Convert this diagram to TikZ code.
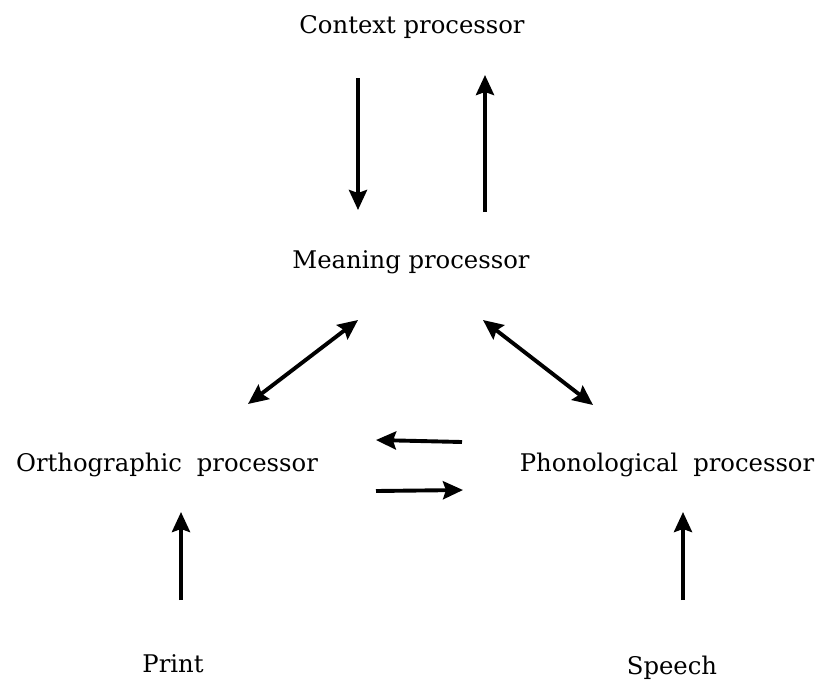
\documentclass[tikz,border=0pt]{standalone}
\usepackage{fontspec}
\setmainfont{DejaVu Serif}
\usetikzlibrary{arrows.meta}
\begin{document}
\begin{tikzpicture}[x=1pt,y=-1pt,
  lbl/.style={inner sep=0pt,font=\fontsize{24.3}{28}\selectfont},
  tip/.tip={Stealth[length=20pt,width=18pt,inset=3pt]},
  arr/.style={line width=3.9pt,-tip},
  darr/.style={line width=3.9pt,tip-tip}]
\useasboundingbox (0,0) rectangle (821,681);
\node[lbl] (ctx) at (412,27) {Context processor};
\node[lbl] (mean) at (411,262) {Meaning processor};
\node[lbl] (orth) at (167,465) {Orthographic\hspace{0.3em} processor};
\node[lbl] (phon) at (667,465) {Phonological\hspace{0.3em} processor};
\node[lbl] (print) at (173,664) {Print};
\node[lbl] (speech) at (672,668) {Speech};
% arrow endpoints
\coordinate (a1s) at (358,78);  \coordinate (a1e) at (358,210);
\coordinate (a2s) at (485,212); \coordinate (a2e) at (485,75);
\coordinate (a3s) at (248,404); \coordinate (a3e) at (358,320);
\coordinate (a4s) at (483,320); \coordinate (a4e) at (593,405);
\coordinate (a5s) at (462,442); \coordinate (a5e) at (376,440);
\coordinate (a6s) at (376,491); \coordinate (a6e) at (463,490);
\coordinate (a7s) at (181,600); \coordinate (a7e) at (181,512);
\coordinate (a8s) at (683,600); \coordinate (a8e) at (683,512);
\draw[arr] (a1s) -- (a1e);
\draw[arr] (a2s) -- (a2e);
\draw[darr] (a3s) -- (a3e);
\draw[darr] (a4s) -- (a4e);
\draw[arr] (a5s) -- (a5e);
\draw[arr] (a6s) -- (a6e);
\draw[arr] (a7s) -- (a7e);
\draw[arr] (a8s) -- (a8e);
\end{tikzpicture}
\end{document}
